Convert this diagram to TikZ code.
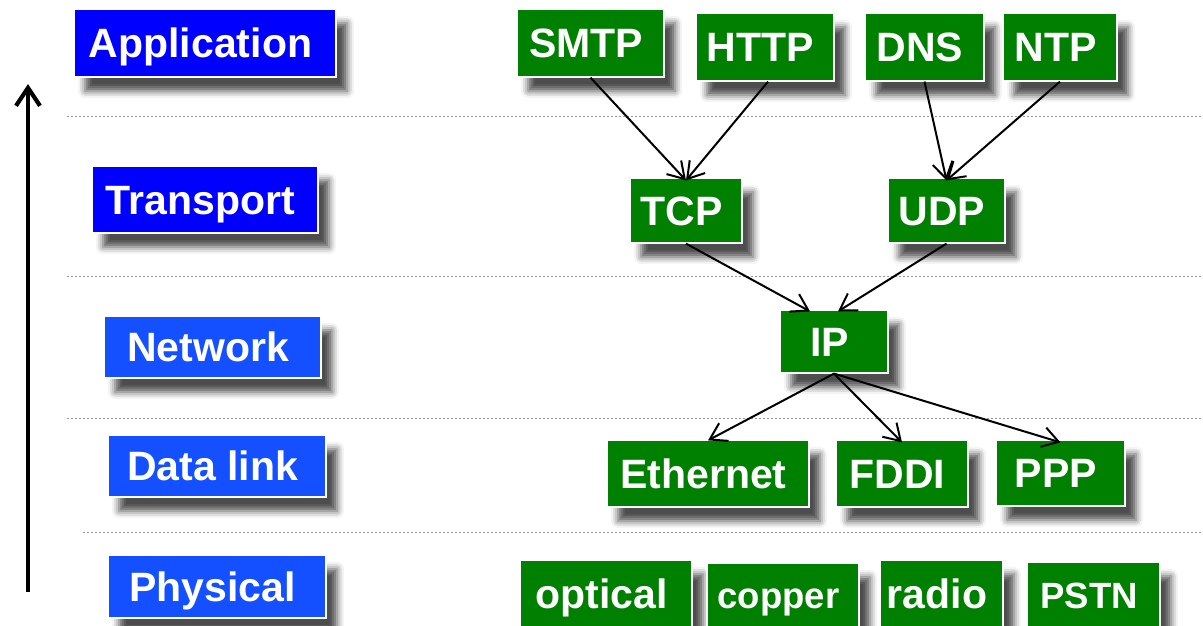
\documentclass[tikz,border=0pt]{standalone}
\usepackage{fontspec}
\setmainfont{Liberation Sans}
\usetikzlibrary{arrows.meta,shadows.blur}
\definecolor{layerblue}{RGB}{0,0,255}
\definecolor{layerblueb}{RGB}{20,80,255}
\definecolor{protgreen}{RGB}{0,128,0}
\definecolor{rulegray}{RGB}{150,150,150}
\tikzset{
  boxbase/.style={rectangle, inner sep=0pt, text=white, draw=white, line width=1.2pt,
    font=\fontsize{41}{41}\bfseries\selectfont, text height=29.5pt, text depth=0pt,
    execute at begin node={\hspace*{-9pt}},
    blur shadow={shadow xshift=11pt, shadow yshift=-14pt, shadow blur radius=7pt, shadow opacity=70}},
  layerbox/.style={boxbase, fill=layerblue},
  layerboxb/.style={boxbase, fill=layerblueb},
  protbox/.style={boxbase, fill=protgreen},
  smalltext/.style={font=\fontsize{36.5}{36.5}\bfseries\selectfont, text height=26.2pt},
  sz/.style 2 args={minimum width=#1pt, minimum height=#2pt},
  sep/.style={rulegray, line width=0.9pt, dash pattern=on 2.2pt off 1.8pt},
  flow/.style={-{Straight Barb[length=16pt,width=20pt,line width=2pt]}, line width=2pt, black},
}
\begin{document}
\begin{tikzpicture}[x=1pt,y=-1pt]
\useasboundingbox (0,0) rectangle (1203,625);

% layer separators
\draw[sep] (67,116) -- (1203,116);
\draw[sep] (67,276) -- (1203,276);
\draw[sep] (67,418) -- (1203,418);
\draw[sep] (83,532) -- (1203,532);

% upward arrow along the stack
\coordinate (stackbot) at (28,592);
\coordinate (stacktop) at (28,84);
\draw[line width=4.2pt, -{Straight Barb[length=18pt,width=24pt,line width=4.2pt]}] (stackbot) -- (stacktop);

% layer names
\node[layerbox, sz={262}{68}] (app) at (205,43) {Application};
\node[layerbox, sz={226}{67}] (trn) at (205,199.5) {Transport};
\node[layerboxb, sz={217}{62}] (net) at (212.5,347) {Network};
\node[layerboxb, sz={218}{62}] (dl) at (217,466) {Data link};
\node[layerboxb, sz={218}{63}] (phy) at (217,586.5) {Physical};

% application protocols
\node[protbox, sz={147}{68}] (smtp) at (590.5,43) {SMTP};
\node[protbox, sz={138}{68}] (http) at (765,47) {HTTP};
\node[protbox, sz={119}{68}] (dns) at (924.5,47) {DNS};
\node[protbox, sz={114}{68}] (ntp) at (1060,47) {NTP};

% transport
\node[protbox, sz={112}{65}] (tcp) at (686,210.5) {TCP};
\node[protbox, sz={117}{65}] (udp) at (946.5,210.5) {UDP};

% network
\node[protbox, sz={108}{63}] (ip) at (834,341.5) {IP};

% data link
\node[protbox, sz={202}{67}] (eth) at (708,473.5) {Ethernet};
\node[protbox, sz={132}{67}] (fddi) at (902,473.5) {FDDI};
\node[protbox, sz={129}{66}] (ppp) at (1060.5,473) {PPP};

% physical media
\node[protbox, sz={172}{68}] (opt) at (606,594) {optical};
\node[protbox, smalltext, sz={152}{65}] (cop) at (783,595.5) {copper};
\node[protbox, sz={123}{68}] (rad) at (941.5,594) {radio};
\node[protbox, smalltext, sz={133}{66}] (pstn) at (1093.5,595) {PSTN};

% dependencies
\draw[flow] (smtp.south) -- ([yshift=-3pt]tcp.north);
\draw[flow] ([xshift=3pt]http.south) -- ([yshift=-3pt]tcp.north);
\draw[flow] (dns.south) -- ([yshift=-3pt]udp.north);
\draw[flow] (ntp.south) -- ([yshift=-3pt]udp.north);
\draw[flow] (tcp.south) -- ([xshift=-24pt,yshift=-2pt]ip.north);
\draw[flow] (udp.south) -- ([xshift=4pt,yshift=-2pt]ip.north);
\draw[flow] (ip.south) -- ([yshift=-1pt]eth.north);
\draw[flow] (ip.south) -- ([yshift=-3pt]fddi.north);
\draw[flow] (ip.south) -- ([yshift=-3pt]ppp.north);
\end{tikzpicture}
\end{document}
